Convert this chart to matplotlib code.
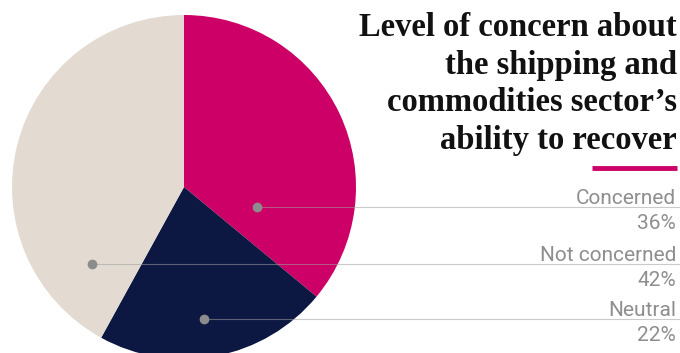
import matplotlib.pyplot as plt

# data
labels = ["Concerned", "Neutral", "Not concerned"]
shares = [36, 22, 42]
colors = ["#CC0066", "#0D1842", "#E3DBD2"]

# label anchors (dot x, dot y in pixels from top)
dots = {"Concerned": (257, 207), "Not concerned": (92, 264), "Neutral": (204, 319)}
title_lines = ["Level of concern about", "the shipping and",
               "commodities sector\u2019s", "ability to recover"]

W, H = 680, 353
fig = plt.figure(figsize=(W / 100, H / 100), dpi=100)
ax = fig.add_axes([0, 0, 1, 1])

ax.pie(shares, colors=colors, startangle=90, counterclock=False,
       center=(184, H - 187), radius=172, wedgeprops=dict(linewidth=0))
ax.set_xlim(0, W)
ax.set_ylim(0, H)
ax.set_aspect("equal")
ax.axis("off")

# title, right aligned
for i, line in enumerate(title_lines):
    ax.text(677, H - 36 - i * 37.6, line, ha="right", va="baseline",
            fontsize=23.5, fontweight="bold", family="Liberation Serif", color="#111111")
ax.plot([592, 677], [H - 168, H - 168], color="#CC0066", lw=3.5, solid_capstyle="butt")

# leader lines, dots and labels
for lab, val in zip(labels, shares):
    x, y = dots[lab]
    ax.plot([x, W], [H - y, H - y], color="#a0a0a0", lw=0.8, alpha=0.55, zorder=3)
    ax.plot(x, H - y, "o", color="#8c8c8c", ms=6, zorder=4)
    ax.text(676, H - y + 3, lab, ha="right", va="baseline", fontsize=15,
            family="Roboto", color="#8e8e8e")
    ax.text(676, H - y - 22, f"{val}%", ha="right", va="baseline", fontsize=15,
            family="Roboto", color="#8e8e8e")

fig.savefig("out.png", dpi=100)
